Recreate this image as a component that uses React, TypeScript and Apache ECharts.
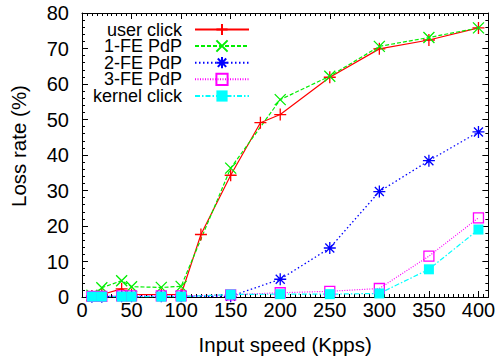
import React, { useEffect, useRef } from "react";
import * as echarts from "echarts";

const xLow = [10, 20, 40, 50, 80, 100, 150, 200, 250, 300, 350, 400];
const xUser = [10, 20, 40, 50, 80, 100, 120, 150, 180, 200, 250, 300, 350, 400];
const userClick = [0.3, 0.7, 2.3, 0.7, 0.7, 0.7, 17.6, 34.3, 49.1, 51.4, 61.9, 69.9, 72.4, 75.8];
const fe1 = [0.5, 2.6, 4.6, 2.9, 2.7, 3.0, 36.3, 55.6, 62.2, 70.6, 73.1, 75.8];
const fe2 = [0.1, 0.1, 0.2, 0.2, 0.2, 0.2, 0.2, 5.0, 13.8, 29.7, 38.4, 46.5];
const fe3 = [0.2, 0.2, 0.3, 0.3, 0.3, 0.3, 0.6, 1.2, 1.6, 2.4, 11.5, 22.3];
const kernelClick = [0.1, 0.1, 0.1, 0.1, 0.1, 0.1, 0.7, 0.8, 0.8, 1.0, 7.8, 19.0];
const seriesNames = ["user click", "1-FE PdP", "2-FE PdP", "3-FE PdP", "kernel click"];

const FONT = "'Liberation Sans', Arial, Helvetica, sans-serif";

const pair = (xs: number[], ys: number[]) => ys.map((y, i) => [xs[i], y]);

export default function App() {
  const ref = useRef<HTMLDivElement>(null);
  useEffect(() => {
    if (!ref.current) return;
    const chart = echarts.init(ref.current, undefined, { renderer: "svg" });
    const gridL = 76, gridR = 9, gridT = 13, gridB = 63;
    const axisLineStyle = { color: "#000", width: 1 };
    const xMax = 410;
    const legendCenters = [29.5, 46, 62.7, 79.3, 96];
    const series: any[] = [
      {
        name: seriesNames[0], data: pair(xUser, userClick),
        color: "#ff0000",
        symbol: "path://M0,6L12,6M6,0L6,12", symbolSize: 12,
        itemStyle: { color: "#ff0000", borderColor: "#ff0000", borderWidth: 1.3 },
        lineStyle: { color: "#ff0000", width: 1.2, type: "solid" },
      },
      {
        name: seriesNames[1], data: pair(xLow, fe1),
        color: "#00ee00",
        symbol: "path://M0,0L12,12M12,0L0,12", symbolSize: 11,
        itemStyle: { color: "#00ee00", borderColor: "#00ee00", borderWidth: 1.3 },
        lineStyle: { color: "#00ee00", width: 1.2, type: [4, 2] },
      },
      {
        name: seriesNames[2], data: pair(xLow, fe2),
        color: "#0000ff",
        symbol: "path://M0,6L12,6M6,0L6,12M1.5,1.5L10.5,10.5M10.5,1.5L1.5,10.5", symbolSize: 12,
        itemStyle: { color: "#0000ff", borderColor: "#0000ff", borderWidth: 1.3 },
        lineStyle: { color: "#0000ff", width: 1.3, type: [1.5, 2.5] },
      },
      {
        name: seriesNames[3], data: pair(xLow, fe3),
        color: "#ff00ff",
        symbol: "rect", symbolSize: 10,
        itemStyle: { color: "rgba(0,0,0,0)", borderColor: "#ff00ff", borderWidth: 1.3 },
        lineStyle: { color: "#ff00ff", width: 1.2, type: [1, 1.5] },
      },
      {
        name: seriesNames[4], data: pair(xLow, kernelClick),
        color: "#00ffff",
        symbol: "rect", symbolSize: 10,
        itemStyle: { color: "#00ffff", borderWidth: 0 },
        lineStyle: { color: "#00ffff", width: 1.2, type: [5, 2, 1.5, 2] },
      },
    ].map((s) => ({
      type: "line", xAxisIndex: 0, yAxisIndex: 0, showSymbol: true,
      emphasis: { disabled: true }, silent: true, ...s,
    }));

    const legends = seriesNames.map((n, i) => ({
      data: [n],
      orient: "vertical",
      align: "right",
      right: 498 - 250,
      top: legendCenters[i] - 9,
      padding: 0,
      itemWidth: 54,
      itemHeight: 14,
      selectedMode: false,
      textStyle: { fontFamily: FONT, fontSize: 18, color: "#000", padding: [0, 8, 0, 0] },
    }));

    const majorX = (pos: string, labels: boolean) => ({
      type: "value", position: pos, min: 0, max: xMax, interval: 50,
      axisLine: { show: true, onZero: false, lineStyle: axisLineStyle },
      axisTick: { show: true, inside: true, length: 6, lineStyle: axisLineStyle },
      axisLabel: labels
        ? { show: true, fontFamily: FONT, fontSize: 20, color: "#000", margin: 3,
            formatter: (v: number) => (v % 50 === 0 ? String(v) : "") }
        : { show: false },
      splitLine: { show: false },
      ...(labels
        ? { name: "Input speed (Kpps)", nameLocation: "middle", nameGap: 37,
            nameTextStyle: { fontFamily: FONT, fontSize: 20.5, color: "#000" } }
        : {}),
    });
    const minorX = (pos: string) => ({
      type: "value", position: pos, min: 0, max: xMax, interval: 5,
      axisLine: { show: false, onZero: false },
      axisTick: { show: true, inside: true, length: 3, lineStyle: axisLineStyle },
      axisLabel: { show: false }, splitLine: { show: false },
    });
    const yAx = (pos: string, labels: boolean) => ({
      type: "value", position: pos, min: 0, max: 80, interval: 10,
      axisLine: { show: true, onZero: false, lineStyle: axisLineStyle },
      axisTick: { show: true, inside: true, length: 6, lineStyle: axisLineStyle },
      minorTick: { show: true, splitNumber: 5, length: 3, lineStyle: axisLineStyle },
      axisLabel: labels
        ? { show: true, fontFamily: FONT, fontSize: 20, color: "#000", margin: 13 }
        : { show: false },
      splitLine: { show: false },
      ...(labels
        ? { name: "Loss rate (%)", nameLocation: "middle", nameGap: 53,
            nameTextStyle: { fontFamily: FONT, fontSize: 20.5, color: "#000", padding: [0, 0, 0, 18] } }
        : {}),
    });

    chart.setOption({
      animation: false,
      backgroundColor: "#fff",
      textStyle: { fontFamily: FONT },
      grid: { left: gridL, right: gridR, top: gridT, bottom: gridB, containLabel: false },
      legend: legends,
      xAxis: [majorX("bottom", true), minorX("bottom"), majorX("top", false), minorX("top")],
      yAxis: [yAx("left", true), yAx("right", false)],
      series,
    });
    return () => chart.dispose();
  }, []);
  return <div ref={ref} style={{ width: 498, height: 360, position: "absolute", left: 0, top: 0 }} />;
}
